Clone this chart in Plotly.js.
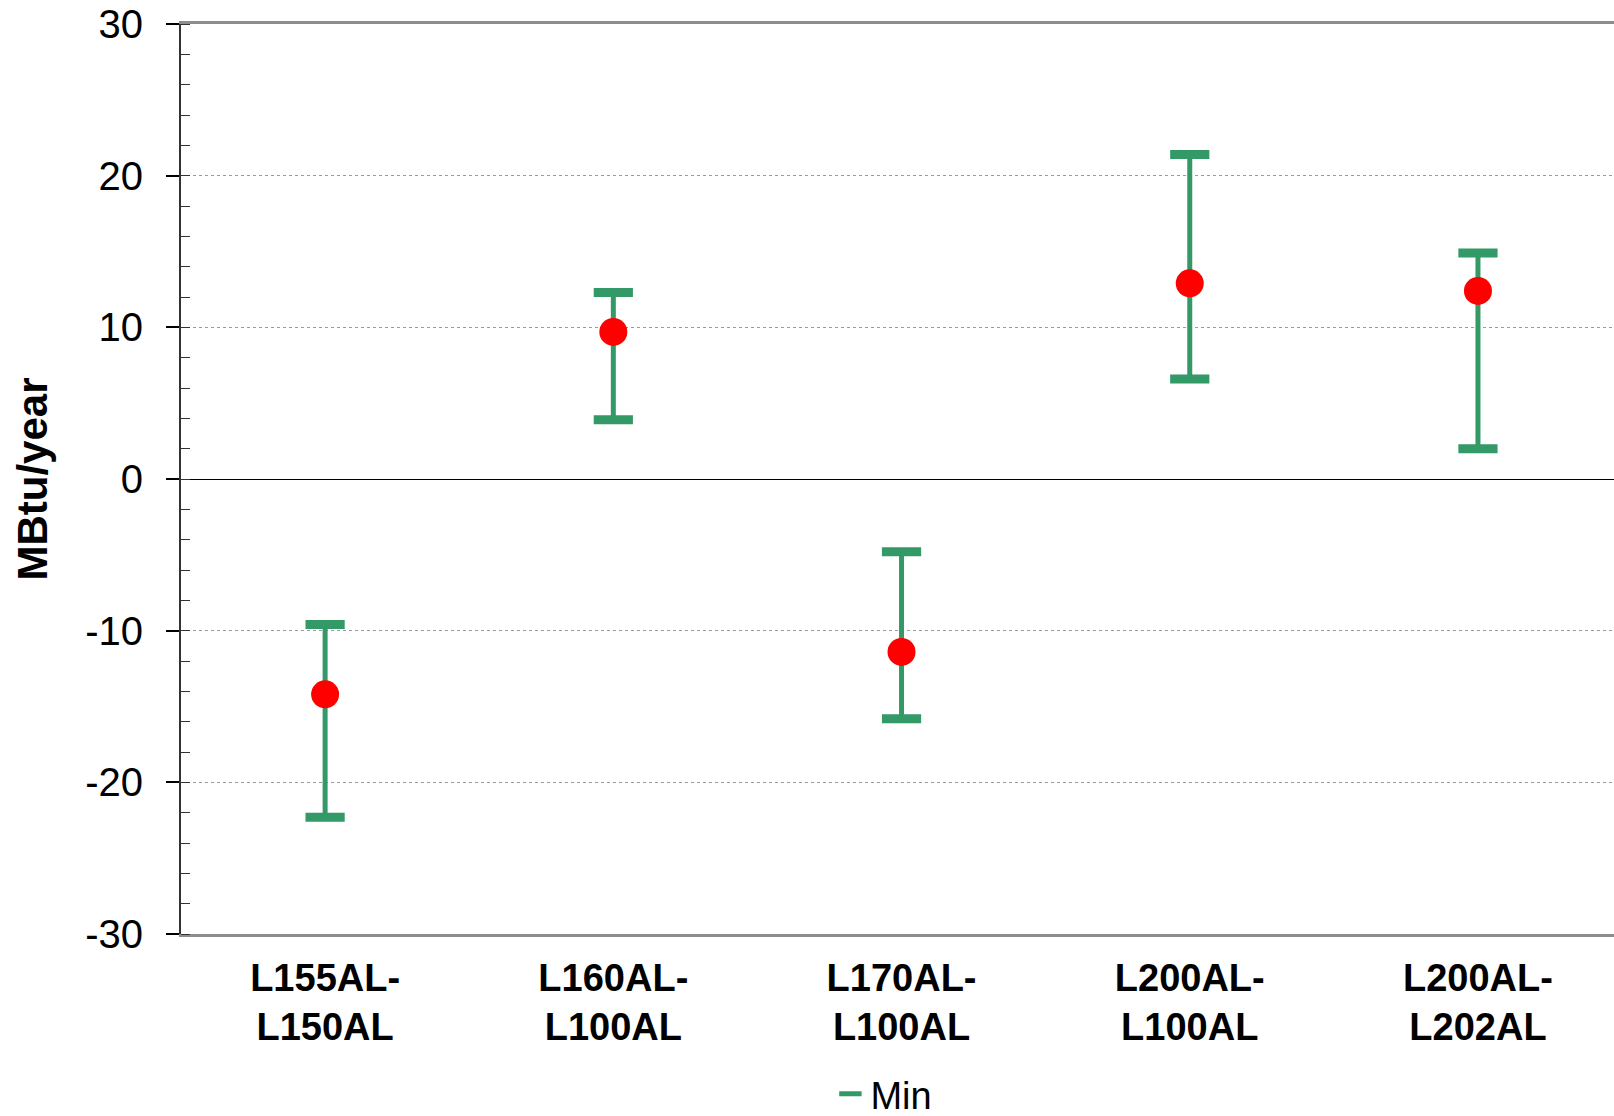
<!DOCTYPE html>
<html>
<head>
<meta charset="utf-8">
<script src="https://cdn.plot.ly/plotly-3.0.1.min.js"></script>
<style>html,body{margin:0;padding:0;background:#fff;}#chart{width:1614px;height:1116px;}</style>
</head>
<body>
<div id="chart"></div>
<script>
const categories = ['L155AL-<br>L150AL', 'L160AL-<br>L100AL', 'L170AL-<br>L100AL', 'L200AL-<br>L100AL', 'L200AL-<br>L202AL'];
const midValues = [-14.2, 9.7, -11.4, 12.9, 12.4];
const maxValues = [-9.6, 12.3, -4.8, 21.4, 14.9];
const minValues = [-22.3, 3.9, -15.8, 6.6, 2.0];
const yTickVals = [-30, -20, -10, 0, 10, 20, 30];

const GREEN = '#339966';
const span = maxValues.map((v, i) => v - minValues[i]);
const zeros = maxValues.map(() => 0);

const capMarker = {symbol: 'line-ew', size: 28, color: GREEN, line: {color: GREEN, width: 9}};

const traces = [
  {
    x: categories, y: maxValues, type: 'scatter', mode: 'markers', name: 'Max',
    marker: capMarker, showlegend: false, hoverinfo: 'skip',
    error_y: {type: 'data', symmetric: false, array: zeros, arrayminus: span, thickness: 5, width: 0, color: GREEN}
  },
  {
    x: categories, y: minValues, type: 'scatter', mode: 'markers', name: 'Min',
    marker: capMarker, showlegend: true, hoverinfo: 'skip'
  },
  {
    x: categories, y: midValues, type: 'scatter', mode: 'markers', name: 'Mean',
    marker: {symbol: 'circle', size: 28, color: '#FF0000'}, showlegend: false, hoverinfo: 'skip'
  }
];

const layout = {
  width: 1614, height: 1116,
  margin: {l: 181, r: 0, t: 24, b: 182},
  paper_bgcolor: '#ffffff', plot_bgcolor: '#ffffff',
  font: {family: 'Liberation Sans, Arial, sans-serif', color: '#000'},
  showlegend: true,
  legend: {orientation: 'h', xref: 'container', yref: 'container',
           x: 0.5145, xanchor: 'left', y: 0.0197, yanchor: 'middle',
           font: {size: 38, color: '#000'},
           bgcolor: 'rgba(0,0,0,0)'},
  xaxis: {
    type: 'category', range: [-0.5, 4.472], showgrid: false, zeroline: false,
    showline: true, mirror: true, linecolor: '#8c8c8c', linewidth: 3,
    ticks: '', tickfont: {size: 38, color: '#000', weight: 'bold'},
    ticklabelstandoff: 8, fixedrange: true
  },
  yaxis: {
    range: [-30, 30], tickvals: yTickVals, ticktext: yTickVals.map(String),
    showgrid: true, gridcolor: '#9a9a9a', gridwidth: 1, griddash: 'dot',
    zeroline: true, zerolinecolor: '#000', zerolinewidth: 1,
    showline: true, linecolor: '#333', linewidth: 2,
    ticks: 'outside', ticklen: 13, tickwidth: 2, tickcolor: '#000',
    minor: {dtick: 2, ticks: 'inside', ticklen: 9, tickwidth: 1, tickcolor: '#333', showgrid: false},
    tickfont: {size: 40, color: '#000'}, ticklabelstandoff: 15,
    title: {text: 'MBtu/year', font: {size: 42, weight: 'bold', color: '#000'}, standoff: 24},
    fixedrange: true
  }
};

Plotly.newPlot('chart', traces, layout, {displayModeBar: false, staticPlot: true});
</script>
</body>
</html>
